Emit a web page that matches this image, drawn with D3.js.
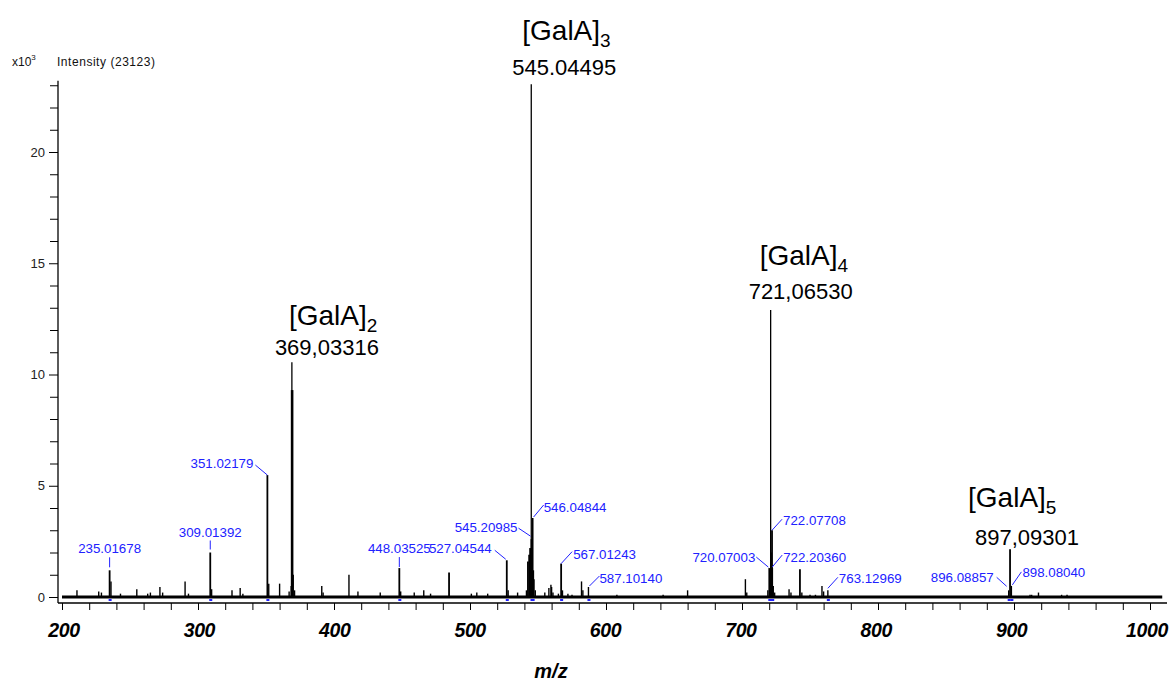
<!DOCTYPE html>
<html><head><meta charset="utf-8">
<script src="https://cdn.jsdelivr.net/npm/d3@7"></script>
<style>
html,body{margin:0;padding:0;background:#fff;}
svg{display:block;font-family:Arial,"Liberation Sans",sans-serif;}
</style></head>
<body><svg id="c" width="1170" height="681"></svg>
<script>
// ---- data (m/z, intensity x10^3) ----
const peakMz = [211,227,229,235.017,236.02,243,255,263,265,272,274,290.5,293,309.014,310.02,325,331,333,
  351.022,352.02,360,367,368.5,369.033,369.2,370.03,371,391,392,411,417.6,434,448.035,449.03,459,466,471,484.6,
  501,505,513,527.045,528.05,535,541.5,542.6,543.5,544.2,545.045,545.21,546.048,546.5,547.05,548,555,558,559.5,560,561,565,
  567.012,568,572,575,582,583,587.101,608,642,660,702.5,703.5,719,720.07,721.065,721.3,722.077,722.204,723,724,734.6,736,
  742.6,744,750,754,758.8,760,763.13,896.089,897.093,898.08,911.8,913,918,935,939,1003];
const peakIntensity = [0.3,0.25,0.2,1.2,0.7,0.15,0.35,0.15,0.2,0.45,0.2,0.7,0.15,2.0,0.35,0.3,0.4,0.15,
  5.48,0.6,0.6,0.25,0.5,10.55,9.3,1.0,0.3,0.5,0.2,1.0,0.25,0.2,1.3,0.25,0.2,0.3,0.15,1.1,
  0.15,0.2,0.15,1.65,0.3,0.2,0.3,1.6,1.9,2.2,23.05,2.6,3.55,1.2,0.8,0.3,0.2,0.4,0.55,0.45,0.2,0.15,
  1.5,0.3,0.15,0.1,0.7,0.3,0.45,0.1,0.1,0.3,0.8,0.2,0.3,1.3,12.9,2.0,3.0,1.3,0.5,0.2,0.35,0.2,
  1.25,0.2,0.1,0.1,0.5,0.25,0.3,0.3,2.15,0.5,0.1,0.1,0.2,0.1,0.1,0.05];
const spectrumRange = [200, 1009];

const blueLabelMz = [235.017,309.014,351.022,448.035,527.045,545.21,546.048,567.012,587.101,720.07,722.077,722.204,763.13,896.089,898.08];
const blueLabelText = ["235.01678","309.01392","351.02179","448.03525","527.04544","545.20985","546.04844","567.01243","587.10140",
  "720.07003","722.07708","722.20360","763.12969","896.08857","898.08040"];

const mainLabelMz = [369.033,545.045,721.065,897.093];
const mainLabelName = ["[GalA]","[GalA]","[GalA]","[GalA]"];
const mainLabelSub = ["2","3","4","5"];
const mainLabelValue = ["369,03316","545.04495","721,06530","897,09301"];

const xMajorTicks = [200,300,400,500,600,700,800,900,1000];
const yMajorTicks = [0,5,10,15,20];

// ---- layout (pixel offsets from peak top) ----
// [anchor, dx, dy, leader x1,y1,x2,y2]
const blueLayout = [
  ["middle",0,-17, 0,-13,0,-3],
  ["middle",0,-16, 0,-12,0,-3],
  ["end",-14,-7, -12,-10,0,0],
  ["middle",0,-15, 0,-11,0,-1],
  ["end",-15,-7, -12,-10,-1,-1],
  ["end",-14,-7, -13,-11,-1,-3],
  ["start",11,-6, 1,-1,11,-13],
  ["start",12,-5, 0,0,11,-12],
  ["start",11,-4, 1,-1,11,-11],
  ["end",-14,-6, -13,-11,-1,-1],
  ["start",11,-5, 0,0,10,-11],
  ["start",11,-6, 0,-1,10,-13],
  ["start",11,-7, 0,-2,10,-13],
  ["end",-15,-8, -12,-13,-2,-4],
  ["start",11,-9, 1,-1,10,-14]
];
// [name dx, name dy, value dx, value dy]
const mainLayout = [
  [-3,-37,-17,-7],
  [-9,-44,-19,-9],
  [-11,-45,-22,-11],
  [-42,-42,-35,-4]
];

const svg = d3.select("#c");
const x = d3.scaleLinear().domain([200,1000]).range([62,1150]);
const y = d3.scaleLinear().domain([0,20]).range([597,152]);
const blue = "#2121ff";

// y axis
const yAxis = d3.axisLeft(y).tickValues(yMajorTicks).tickSize(9).tickPadding(4).tickFormat(d3.format("d"));
const gy = svg.append("g").attr("transform","translate(58,0)").call(yAxis);
gy.select(".domain").remove();
gy.selectAll("text").attr("font-size",13).attr("fill","#222").attr("font-family","Arial, 'Liberation Sans', sans-serif");
const yMinor = d3.range(0,24).filter(v=>v%5!==0);
const gym = svg.append("g").attr("transform","translate(58,0)").call(d3.axisLeft(y).tickValues(yMinor).tickSize(8).tickFormat(""));
gym.select(".domain").remove();
svg.append("line").attr("x1",58).attr("x2",58).attr("y1",y(23.2)).attr("y2",603).attr("stroke","#000").attr("stroke-width",1.3);

// x axis
const gx = svg.append("g").attr("transform","translate(0,603)")
  .call(d3.axisBottom(x).tickValues(d3.range(200,1001,20)).tickSize(7).tickFormat(""));
gx.select(".domain").remove();
svg.append("line").attr("x1",58).attr("x2",1167).attr("y1",603).attr("y2",603).attr("stroke","#000").attr("stroke-width",1.5);
svg.append("g").selectAll("text").data(xMajorTicks).join("text")
  .attr("x",(d,i)=>x(d)+2-5*i/8).attr("y",637).attr("text-anchor","middle")
  .attr("font-size",19.5).attr("font-weight","bold").attr("font-style","italic").attr("letter-spacing",-0.4).text(d=>d);
svg.append("text").attr("x",551).attr("y",678).attr("text-anchor","middle")
  .attr("font-size",20).attr("font-weight","bold").attr("font-style","italic").text("m/z");

// header
const hdr = svg.append("text").attr("x",12).attr("y",66).attr("font-size",12).attr("fill","#111");
hdr.append("tspan").text("x10");
hdr.append("tspan").attr("dy",-6).attr("font-size",8).text("3");
svg.append("text").attr("x",57).attr("y",66).attr("font-size",12).attr("fill","#111").attr("textLength",98).text("Intensity (23123)");

// spectrum
const peaks = peakMz.map((m,i)=>({mz:m, v:peakIntensity[i]}));
svg.append("line").attr("x1",x(spectrumRange[0])).attr("x2",x(spectrumRange[1]))
  .attr("y1",y(0)).attr("y2",y(0)).attr("stroke","#000").attr("stroke-width",3);
svg.append("g").selectAll("line").data(peaks).join("line")
  .attr("x1",d=>x(d.mz)).attr("x2",d=>x(d.mz)).attr("y1",y(0)).attr("y2",d=>y(d.v))
  .attr("stroke","#000").attr("stroke-width",d=>d.v>10?1.3:(d.v>8?2.6:(d.v>1?1.8:1.4)));

function peakTop(m){
  const p = peaks.reduce((a,b)=>Math.abs(b.mz-m)<Math.abs(a.mz-m)?b:a);
  return [x(p.mz), y(p.v)];
}

// blue labels
const gb = svg.append("g");
blueLabelMz.forEach((m,i)=>{
  const [px,py] = peakTop(m);
  const L = blueLayout[i];
  gb.append("line").attr("x1",px+L[3]).attr("y1",py+L[4]).attr("x2",px+L[5]).attr("y2",py+L[6])
    .attr("stroke",blue).attr("stroke-width",1);
  gb.append("text").attr("x",px+L[1]).attr("y",py+L[2]).attr("text-anchor",L[0])
    .attr("font-size",13.3).attr("fill",blue).text(blueLabelText[i]);
  gb.append("rect").attr("x",px-1).attr("y",599).attr("width",3).attr("height",2).attr("fill",blue);
});

// main labels
mainLabelMz.forEach((m,i)=>{
  const [px,py] = peakTop(m);
  const L = mainLayout[i];
  const t = svg.append("text").attr("x",px+L[0]).attr("y",py+L[1]).attr("font-size",28).attr("fill","#000");
  t.append("tspan").text(mainLabelName[i]);
  t.append("tspan").attr("dy",7).attr("font-size",19).text(mainLabelSub[i]);
  svg.append("text").attr("x",px+L[2]).attr("y",py+L[3]).attr("font-size",22).attr("fill","#000").text(mainLabelValue[i]);
});
</script>
</body></html>
